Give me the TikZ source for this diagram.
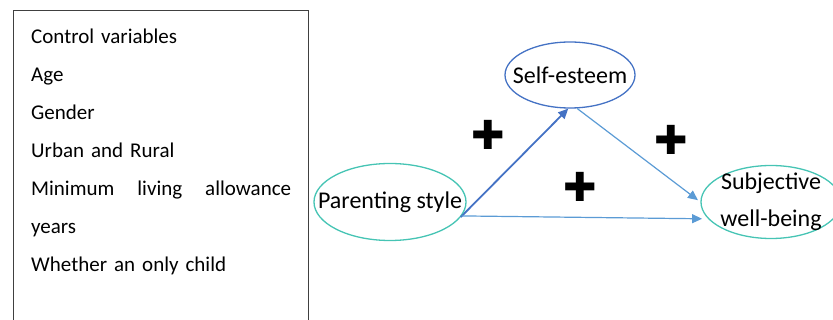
\documentclass[tikz,border=0pt]{standalone}
\usepackage{fontspec}
\setmainfont{Carlito}
\newfontfamily\symfont{DejaVu Sans}
\usepackage{tikz}
\usetikzlibrary{positioning, shapes.geometric, calc, arrows.meta}

\definecolor{tealline}{RGB}{70,196,180}
\definecolor{darkblue}{RGB}{68,114,196}
\definecolor{lightblue}{RGB}{91,155,213}

\begin{document}
\begin{tikzpicture}[
  x=1pt, y=-1pt,
  >={Triangle[length=10pt, width=9pt]},
  ctrlbox/.style={rectangle, draw=black!75, line width=1pt, anchor=north west,
                  minimum width=295pt, minimum height=330pt, inner sep=0pt},
  ctrltext/.style={anchor=north west, inner sep=0pt, text width=260pt, align=left,
                   font=\fontsize{21}{38}\selectfont},
  varnode/.style={ellipse, line width=1.3pt, inner xsep=-60pt, inner ysep=-30pt,
                  align=center, font=\fontsize{24}{37}\selectfont},
  mednode/.style={varnode, draw=darkblue},
  endnode/.style={varnode, draw=tealline},
  plussign/.style={font=\symfont\fontsize{40}{40}\selectfont, inner sep=0pt},
  strongpath/.style={->, line width=1.8pt, darkblue},
  weakpath/.style={->, line width=1.2pt, lightblue}
]
\useasboundingbox (0,0) rectangle (833,320);
\clip (0,0) rectangle (833,320);

% --- control variables box ---
\node[ctrlbox] (ctrl) at (13,10) {};
\node[ctrltext] (ctrlvars) at (31,29) {%
  Control variables\\
  Age\\
  Gender\\
  Urban and Rural\\
  Minimum\hfill living\hfill allowance\\
  years\\
  Whether an only child};

% --- model ---
\node[mednode, minimum width=130pt, minimum height=66pt] (esteem) at (570,75) {Self-esteem};
\node[endnode, minimum width=152pt, minimum height=77pt] (parent) at (390,202) {Parenting style};
\node[endnode, minimum width=140pt, minimum height=73pt] (wellbeing) at (771,202)
  {Subjective\\well-being};

\draw[strongpath] (parent.-12) -- (esteem.267);
\draw[weakpath, shorten >=3pt] (esteem.-78) -- (wellbeing.180);
\draw[weakpath, shorten >=6pt] (parent.-11) -- (wellbeing.195);

% --- signs ---
\node[plussign] (plusa) at (488,135) {✚};
\node[plussign] (plusb) at (671,140) {✚};
\node[plussign] (plusc) at (580,187) {✚};

\end{tikzpicture}
\end{document}
